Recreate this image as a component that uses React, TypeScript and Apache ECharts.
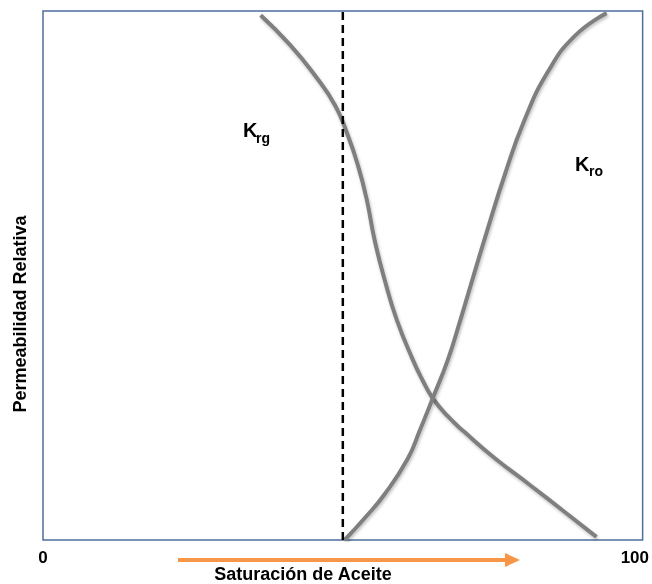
import React, { useEffect, useRef } from "react";
import * as echarts from "echarts";

const xTickValues = [0, 100];
const krgX = [36.3, 41.2, 45.3, 48.7, 50.8, 52.5, 54, 55.3, 57, 59, 61.7, 63.3, 65, 67.5, 70.3, 75.3, 81.2, 87, 92.3];
const krgY = [0.992, 0.936, 0.879, 0.822, 0.766, 0.709, 0.643, 0.567, 0.491, 0.416, 0.34, 0.302, 0.268, 0.234, 0.204, 0.155, 0.104, 0.053, 0.006];
const kroX = [50.3, 53.7, 57, 60.8, 62.8, 65, 67.5, 69.5, 71.5, 74, 77, 80.3, 84.2, 88.7, 94];
const kroY = [0, 0.042, 0.087, 0.153, 0.206, 0.268, 0.34, 0.412, 0.488, 0.582, 0.69, 0.794, 0.885, 0.953, 0.996];
const dashedX = [50, 50];
const dashedY = [0, 1];

const FONT = "'Liberation Sans', Arial, sans-serif";

export default function App() {
  const ref = useRef<HTMLDivElement>(null);
  useEffect(() => {
    if (!ref.current) return;
    const chart = echarts.init(ref.current, undefined, { renderer: "svg" });
    const zip = (xs: number[], ys: number[]) => xs.map((x, i) => [x, ys[i]]);
    const curveStyle = {
      color: "#7F7F7F",
      width: 4,
      shadowColor: "rgba(0,0,0,0.25)",
      shadowBlur: 3,
      shadowOffsetX: 1,
      shadowOffsetY: 2,
    };
    chart.setOption({
      animation: false,
      grid: {
        left: 43,
        top: 11,
        width: 600,
        height: 529,
        show: true,
        borderColor: "#4F6D9F",
        borderWidth: 1.5,
        backgroundColor: "#fff",
      },
      xAxis: {
        type: "value",
        min: 0,
        max: 100,
        interval: 100,
        axisLine: { show: false },
        axisTick: { show: false },
        splitLine: { show: false },
        axisLabel: {
          margin: 9,
          color: "#000",
          fontWeight: "bold",
          fontSize: 17,
          fontFamily: FONT,
          formatter: (v: number) => (v === xTickValues[1] ? "{r|" + v + "}" : String(v)),
          rich: { r: { width: 44, align: "left", color: "#000", fontWeight: "bold", fontSize: 17, fontFamily: FONT } },
        },
      },
      yAxis: {
        type: "value",
        min: 0,
        max: 1,
        axisLine: { show: false },
        axisTick: { show: false },
        splitLine: { show: false },
        axisLabel: { show: false },
      },
      series: [
        {
          type: "line",
          data: zip(krgX, krgY),
          smooth: 0.5,
          showSymbol: false,
          lineStyle: curveStyle,
        },
        {
          type: "line",
          data: zip(kroX, kroY),
          smooth: 0.5,
          showSymbol: false,
          lineStyle: curveStyle,
        },
        {
          type: "line",
          data: zip(dashedX, dashedY),
          showSymbol: false,
          lineStyle: { color: "#000", width: 2.5, type: [8, 5] },
        },
      ],
      graphic: [
        { type: "text", x: 243, y: 130, style: { text: "K", font: `bold 20px ${FONT}`, fill: "#000", verticalAlign: "middle" } },
        { type: "text", x: 256, y: 138, style: { text: "rg", font: `bold 14px ${FONT}`, fill: "#000", verticalAlign: "middle" } },
        { type: "text", x: 575, y: 164, style: { text: "K", font: `bold 20px ${FONT}`, fill: "#000", verticalAlign: "middle" } },
        { type: "text", x: 589, y: 171, style: { text: "ro", font: `bold 14px ${FONT}`, fill: "#000", verticalAlign: "middle" } },
        {
          type: "text",
          x: 20,
          y: 314,
          rotation: Math.PI / 2,
          style: { text: "Permeabilidad Relativa", font: `bold 18px ${FONT}`, fill: "#000", align: "center", verticalAlign: "middle" },
        },
        {
          type: "text",
          x: 303,
          y: 574,
          style: { text: "Saturación de Aceite", font: `bold 18px ${FONT}`, fill: "#000", align: "center", verticalAlign: "middle" },
        },
        { type: "line", shape: { x1: 178, y1: 560, x2: 508, y2: 560 }, style: { stroke: "#F79646", lineWidth: 4 } },
        { type: "polygon", shape: { points: [[520, 560], [505, 553], [505, 567]] }, style: { fill: "#F79646" } },
      ],
    });
    return () => chart.dispose();
  }, []);
  return <div ref={ref} style={{ position: "fixed", left: 0, top: 0, width: 652, height: 584 }} />;
}
